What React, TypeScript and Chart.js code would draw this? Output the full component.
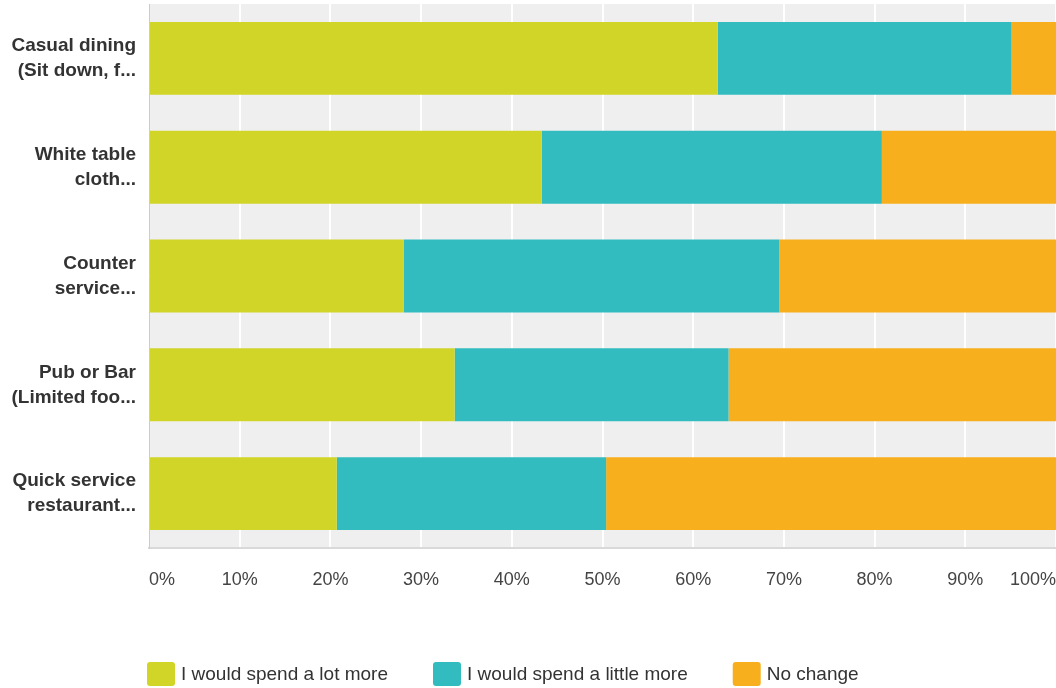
import React, { useEffect, useRef } from "react";
import { Chart, registerables } from "chart.js";

Chart.register(...registerables);

const categories: string[][] = [
  ["Casual dining", "(Sit down, f..."],
  ["White table", "cloth..."],
  ["Counter", "service..."],
  ["Pub or Bar", "(Limited foo..."],
  ["Quick service", "restaurant..."],
];
const seriesNames = ["I would spend a lot more", "I would spend a little more", "No change"];
const spendLotMore = [62.7, 43.3, 28.1, 33.7, 20.7];
const spendLittleMore = [32.4, 37.5, 41.4, 30.2, 29.7];
const noChange = [4.9, 19.2, 30.5, 36.1, 49.6];
const xTicks = [0, 10, 20, 30, 40, 50, 60, 70, 80, 90, 100];

const COLORS = ["#D1D528", "#33BCBF", "#F7AF1E"];
const FONT = "'Liberation Sans', Arial, Helvetica, sans-serif";

const plotBg = {
  id: "plotBg",
  beforeDraw(chart: any) {
    const { ctx, chartArea } = chart;
    ctx.save();
    ctx.fillStyle = "#efefef";
    ctx.fillRect(chartArea.left, chartArea.top, chartArea.right - chartArea.left, chartArea.bottom - chartArea.top);
    ctx.restore();
  },
};

const customLegend = {
  id: "customLegend",
  afterDraw(chart: any) {
    const { ctx } = chart;
    ctx.save();
    ctx.font = `19px ${FONT}`;
    ctx.textBaseline = "middle";
    ctx.textAlign = "left";
    let x = 147;
    const boxW = 28;
    const boxH = 24;
    const y = 662;
    chart.data.datasets.forEach((ds: any) => {
      ctx.fillStyle = ds.backgroundColor;
      ctx.beginPath();
      (ctx as any).roundRect(x, y, boxW, boxH, 3);
      ctx.fill();
      ctx.fillStyle = "#333";
      const tx = x + boxW + 6;
      ctx.fillText(ds.label, tx, y + boxH / 2 + 1);
      x = tx + ctx.measureText(ds.label).width + 45;
    });
    ctx.restore();
  },
};

function zeroPadding(scale: any) {
  scale.paddingTop = 0;
  scale.paddingBottom = 0;
  scale.paddingLeft = 0;
  scale.paddingRight = 0;
}

export default function App() {
  const ref = useRef<HTMLCanvasElement | null>(null);
  useEffect(() => {
    if (!ref.current) return;
    Chart.defaults.font.family = FONT;
    const chart = new Chart(ref.current, {
      type: "bar",
      data: {
        labels: categories,
        datasets: [
          { label: seriesNames[0], data: spendLotMore, backgroundColor: COLORS[0] },
          { label: seriesNames[1], data: spendLittleMore, backgroundColor: COLORS[1] },
          { label: seriesNames[2], data: noChange, backgroundColor: COLORS[2] },
        ],
      },
      options: {
        indexAxis: "y",
        animation: false,
        responsive: false,
        devicePixelRatio: 1,
        layout: { padding: { top: 4, left: 0, right: 0, bottom: 0 } },
        datasets: { bar: { categoryPercentage: 1, barPercentage: 0.67, borderWidth: 0 } },
        plugins: {
          legend: { display: false },
          tooltip: { enabled: false },
        },
        scales: {
          x: {
            stacked: true,
            min: 0,
            max: 100,
            afterFit(scale: any) {
              scale.height = 140;
              zeroPadding(scale);
            },
            afterBuildTicks(scale: any) {
              scale.ticks = xTicks.map((v) => ({ value: v }));
            },
            ticks: {
              stepSize: 10,
              align: "inner",
              padding: 21,
              color: "#444",
              font: { size: 18, family: FONT },
              callback: (v: any) => `${v}%`,
            },
            grid: {
              color: (c: any) => (c.index === 0 ? "rgba(0,0,0,0)" : "#ffffff"),
              lineWidth: 2,
              drawTicks: false,
            },
            border: { display: true, color: "#d9d9d9", width: 2 },
          },
          y: {
            stacked: true,
            afterFit(scale: any) {
              scale.width = 149;
              zeroPadding(scale);
            },
            ticks: {
              padding: 13,
              color: "#333",
              font: { size: 19, weight: "bold", family: FONT, lineHeight: "25px" },
            },
            grid: { display: false, drawTicks: false },
            border: { display: true, color: "#cccccc", width: 1 },
          },
        },
      },
      plugins: [plotBg, customLegend],
    } as any);
    return () => chart.destroy();
  }, []);
  return (
    <div style={{ position: "fixed", left: 0, top: 0, width: 1056, height: 688, background: "#fff" }}>
      <canvas ref={ref} width={1056} height={688} style={{ width: 1056, height: 688, display: "block" }} />
    </div>
  );
}
